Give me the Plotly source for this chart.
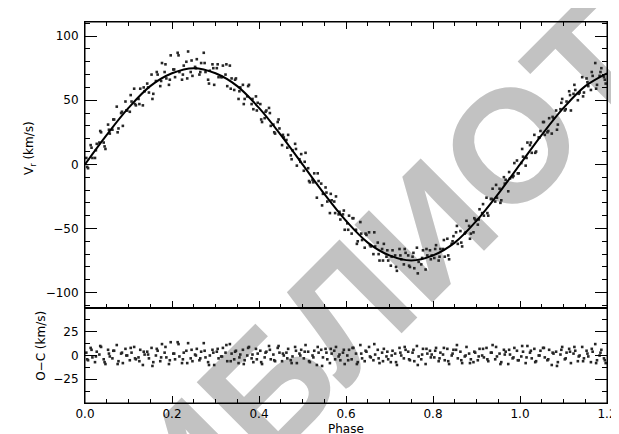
import plotly.graph_objects as go
from plotly.subplots import make_subplots

# ---- model curve ----
model_phase = [0.00, 0.05, 0.10, 0.15, 0.20, 0.25, 0.30, 0.35, 0.40, 0.45, 0.50,
               0.55, 0.60, 0.65, 0.70, 0.75, 0.80, 0.85, 0.90, 0.95, 1.00,
               1.05, 1.10, 1.15, 1.20]
model_vr = [0, 23, 44, 61, 71, 75, 71, 61, 44, 23, 0,
            -23, -44, -61, -71, -75, -71, -61, -44, -23, 0,
            23, 44, 61, 71]

phase = [
 0.003,0.007,0.013,0.017,0.023,0.027,0.033,0.037,0.043,0.047,
 0.053,0.057,0.063,0.067,0.073,0.077,0.083,0.087,0.093,0.097,
 0.103,0.107,0.113,0.117,0.123,0.127,0.133,0.137,0.143,0.147,
 0.153,0.157,0.163,0.167,0.173,0.177,0.183,0.187,0.193,0.197,
 0.203,0.207,0.213,0.217,0.223,0.227,0.233,0.237,0.243,0.247,
 0.253,0.257,0.263,0.267,0.273,0.277,0.283,0.287,0.293,0.297,
 0.303,0.307,0.313,0.317,0.323,0.327,0.333,0.337,0.343,0.347,
 0.353,0.357,0.363,0.367,0.373,0.377,0.383,0.387,0.393,0.397,
 0.403,0.407,0.413,0.417,0.423,0.427,0.433,0.437,0.443,0.447,
 0.453,0.457,0.463,0.467,0.473,0.477,0.483,0.487,0.493,0.497,
 0.503,0.507,0.513,0.517,0.523,0.527,0.533,0.537,0.543,0.547,
 0.553,0.557,0.563,0.567,0.573,0.577,0.583,0.587,0.593,0.597,
 0.603,0.607,0.613,0.617,0.623,0.627,0.633,0.637,0.643,0.647,
 0.653,0.657,0.663,0.667,0.673,0.677,0.683,0.687,0.693,0.697,
 0.703,0.707,0.713,0.717,0.723,0.727,0.733,0.737,0.743,0.747,
 0.753,0.757,0.763,0.767,0.773,0.777,0.783,0.787,0.793,0.797,
 0.803,0.807,0.813,0.817,0.823,0.827,0.833,0.837,0.843,0.847,
 0.853,0.857,0.863,0.867,0.873,0.877,0.883,0.887,0.893,0.897,
 0.903,0.907,0.913,0.917,0.923,0.927,0.933,0.937,0.943,0.947,
 0.953,0.957,0.963,0.967,0.973,0.977,0.983,0.987,0.993,0.997,
 1.003,1.007,1.013,1.017,1.023,1.027,1.033,1.037,1.043,1.047,
 1.053,1.057,1.063,1.067,1.073,1.077,1.083,1.087,1.093,1.097,
 1.103,1.107,1.113,1.117,1.123,1.127,1.133,1.137,1.143,1.147,
 1.153,1.157,1.163,1.167,1.173,1.177,1.183,1.187,1.193,1.197]

vr = [
 5,-3,15,5,5,16,17,25,17,12,
 31,24,27,35,45,28,40,30,49,42,
 41,49,59,46,51,59,46,57,63,56,
 70,55,65,70,61,79,72,67,62,85,
 74,68,87,72,66,77,80,88,72,69,
 76,82,70,79,87,72,66,73,78,62,
 75,68,68,77,70,61,77,67,58,67,
 51,60,62,51,53,62,47,43,53,48,
 47,33,36,42,44,30,31,24,33,28,
 15,21,19,23,7,11,16,-1,4,8,
 -5,9,-3,-14,-12,-7,-26,-13,-15,-23,
 -18,-29,-38,-28,-29,-25,-39,-43,-39,-51,
 -46,-40,-54,-42,-51,-60,-45,-59,-65,-55,
 -53,-64,-70,-64,-61,-75,-66,-62,-72,-75,
 -79,-67,-71,-83,-66,-74,-78,-69,-71,-80,
 -72,-81,-65,-76,-78,-67,-82,-71,-67,-71,
 -73,-63,-75,-66,-66,-72,-58,-74,-62,-56,
 -53,-62,-52,-64,-54,-44,-48,-54,-53,-43,
 -47,-35,-38,-40,-26,-40,-27,-19,-29,-26,
 -19,-28,-10,-12,-21,-11,-10,1,3,-7,
 1,6,-1,17,15,9,23,10,21,26,
 33,23,25,36,24,36,42,31,43,51,
 42,49,57,42,55,58,50,56,68,56,
 67,61,58,69,79,62,69,75,68,63]

oc = [
 3,-5,8,-2,-7,4,1,9,-4,-9,
 6,-1,-3,5,11,-6,2,-8,7,0,
 -5,3,9,-4,-2,6,-10,1,4,-3,
 8,-7,0,5,-6,12,3,-2,-9,14,
 2,-4,14,-1,-8,3,5,13,-3,-6,
 1,7,-5,4,13,-2,-7,0,6,-10,
 4,-3,-1,8,3,-6,12,2,-4,5,
 -8,1,6,-5,0,9,-3,-7,7,2,
 5,-9,-2,4,10,-4,1,-6,8,3,
 -6,0,3,7,-5,-1,9,-8,2,6,
 -3,11,4,-7,0,5,-10,3,6,-2,
 7,-4,-8,2,5,9,-1,-5,3,-9,
 0,6,-4,8,2,-7,11,-3,-6,4,
 9,-2,-5,1,6,-8,3,7,-1,-4,
 -7,5,2,-10,8,0,-3,6,4,-5,
 3,-6,10,-1,-4,7,-9,2,5,1,
 -2,8,-6,3,1,-5,7,-9,0,6,
 6,-3,4,-8,-1,9,2,-4,-7,3,
 -5,7,0,-2,8,-6,3,11,-4,-1,
 2,-7,6,4,-9,1,-3,8,5,-5,
 -1,4,-8,10,3,-3,7,-6,0,5,
 8,-2,-5,6,-10,2,4,-7,1,9,
 -4,3,7,-8,2,5,-6,0,9,-3,
 5,-1,-7,4,12,-5,0,6,-3,-8]

# second batch of observations
phase2 = [
 0.005,0.015,0.025,0.035,0.045,0.055,0.065,0.075,0.085,0.095,
 0.105,0.115,0.125,0.135,0.145,0.155,0.165,0.175,0.185,0.195,
 0.205,0.215,0.225,0.235,0.245,0.255,0.265,0.275,0.285,0.295,
 0.305,0.315,0.325,0.335,0.345,0.355,0.365,0.375,0.385,0.395,
 0.405,0.415,0.425,0.435,0.445,0.455,0.465,0.475,0.485,0.495,
 0.505,0.515,0.525,0.535,0.545,0.555,0.565,0.575,0.585,0.595,
 0.605,0.615,0.625,0.635,0.645,0.655,0.665,0.675,0.685,0.695,
 0.705,0.715,0.725,0.735,0.745,0.755,0.765,0.775,0.785,0.795,
 0.805,0.815,0.825,0.835,0.845,0.855,0.865,0.875,0.885,0.895,
 0.905,0.915,0.925,0.935,0.945,0.955,0.965,0.975,0.985,0.995,
 1.005,1.015,1.025,1.035,1.045,1.055,1.065,1.075,1.085,1.095,
 1.105,1.115,1.125,1.135,1.145,1.155,1.165,1.175,1.185,1.195]

vr2 = [
 -2,13,11,26,14,27,35,25,41,42,
 54,47,47,60,60,51,72,65,78,66,
 74,85,70,67,81,75,72,79,63,75,
 78,68,78,59,66,57,47,61,51,42,
 35,41,40,25,35,23,13,4,12,2,
 2,-13,-14,-7,-32,-22,-23,-38,-37,-36,
 -51,-42,-62,-54,-54,-63,-53,-70,-75,-67,
 -72,-80,-71,-66,-79,-69,-85,-73,-66,-74,
 -66,-72,-59,-71,-60,-48,-61,-53,-58,-42,
 -43,-31,-38,-27,-16,-30,-15,-6,-9,-7,
 12,5,17,9,21,33,26,37,27,48,
 43,54,62,55,53,64,72,59,72,66]

oc2 = [
 -4,6,-1,10,-7,2,5,-9,3,0,
 8,-3,-6,4,1,-11,7,-2,9,-5,
 2,12,-4,-8,6,0,-3,5,-10,3,
 7,-1,11,-6,4,-2,-9,8,1,-4,
 -7,3,6,-5,10,2,-3,-8,5,0,
 4,-6,-2,9,-11,3,7,-4,1,6,
 -5,8,-9,2,5,-1,12,-3,-6,4,
 0,-7,3,9,-4,6,-10,1,7,-2,
 5,-3,8,-6,2,11,-5,0,-8,4,
 -1,7,-4,3,9,-9,1,6,-2,-5,
 10,-2,5,-7,0,8,-4,3,-11,6,
 -3,4,9,-1,-6,2,7,-8,3,-5]

watermark = "БИБЛИОТЕКА"

FONT = "DejaVu Sans"
W, H = 619, 434
ML, MR, MT, MB = 77, 10, 14, 39
PW, PH = W - ML - MR, H - MT - MB
SPLIT = 95 / PH

fig = make_subplots(rows=2, cols=1, shared_xaxes=True, vertical_spacing=0,
                    row_heights=[286, 95])

mk = dict(size=2.6, color="#262626", symbol="square")
fig.add_trace(go.Scatter(x=phase + phase2, y=vr + vr2, mode="markers",
                         marker=mk, showlegend=False), row=1, col=1)
fig.add_trace(go.Scatter(x=model_phase, y=model_vr, mode="lines",
                         line=dict(color="black", width=2, shape="spline", smoothing=1.0),
                         showlegend=False), row=1, col=1)
fig.add_trace(go.Scatter(x=phase + phase2, y=oc + oc2, mode="markers",
                         marker=mk, showlegend=False), row=2, col=1)

axfont = dict(family=FONT, size=12, color="black")
common = dict(showline=True, linecolor="black", linewidth=1, showgrid=False,
              zeroline=False, ticks="inside", tickcolor="black", tickfont=axfont)

fig.update_xaxes(range=[0, 1.2], dtick=0.2, tick0=0, ticklen=7, tickwidth=1,
                 minor=dict(dtick=0.05, tick0=0, ticklen=4, ticks="inside", tickcolor="black"),
                 **common)
fig.update_xaxes(mirror="allticks", showticklabels=False, row=1, col=1)
fig.update_xaxes(mirror=True, tickformat=".1f", row=2, col=1)

fig.update_yaxes(range=[-112, 111], dtick=50, tick0=0, ticklen=12, mirror="allticks",
                 minor=dict(dtick=10, tick0=0, ticklen=5, ticks="inside", tickcolor="black"),
                 ticklabelstandoff=3, row=1, col=1, **common)
fig.update_yaxes(range=[-50, 50], tickvals=[-25, 0, 25], ticklen=12, mirror="allticks",
                 minor=dict(dtick=12.5, tick0=0, ticklen=5, ticks="inside", tickcolor="black"),
                 ticklabelstandoff=3, row=2, col=1, **common)

def px(x, y):
    return (x - ML) / PW, (H - MB - y) / PH

# watermark (behind data)
cx, cy = 446, 180
x0, y0 = px(cx - 150, cy + 150)
x1, y1 = px(cx + 150, cy - 150)
fig.add_shape(type="line", xref="paper", yref="paper", x0=x0, y0=y0, x1=x1, y1=y1,
              line=dict(color="rgba(0,0,0,0)", width=0), layer="below",
              label=dict(text=watermark, textangle=-45, textposition="middle",
                         yanchor="middle",
                         font=dict(family="Liberation Sans", size=160, color="#c2c2c2",
                                   weight="bold")))

# panel frames drawn above the watermark
fig.add_shape(type="rect", xref="paper", yref="paper", x0=0, x1=1, y0=SPLIT, y1=1,
              line=dict(color="black", width=1), fillcolor="rgba(0,0,0,0)", layer="above")
fig.add_shape(type="rect", xref="paper", yref="paper", x0=0, x1=1, y0=0, y1=SPLIT,
              line=dict(color="black", width=1), fillcolor="rgba(0,0,0,0)", layer="above")

ax, ay = px(21, 140)
fig.add_annotation(text="V<sub>r</sub> (km/s)", xref="paper", yref="paper", x=ax, y=ay,
                   textangle=-90, showarrow=False, font=axfont,
                   xanchor="center", yanchor="middle")
ax, ay = px(32, 338)
fig.add_annotation(text="O−C (km/s)", xref="paper", yref="paper", x=ax, y=ay,
                   textangle=-90, showarrow=False, font=axfont,
                   xanchor="center", yanchor="middle")
ax, ay = px(343, 421)
fig.add_annotation(text="Phase", xref="paper", yref="paper", x=ax, y=ay,
                   showarrow=False, font=axfont, xanchor="center", yanchor="middle",
                   borderpad=0)

fig.update_layout(width=W, height=H, margin=dict(l=ML, r=MR, t=MT, b=MB),
                  paper_bgcolor="white", plot_bgcolor="rgba(0,0,0,0)",
                  font=axfont, showlegend=False)

fig.write_html("out.html")
